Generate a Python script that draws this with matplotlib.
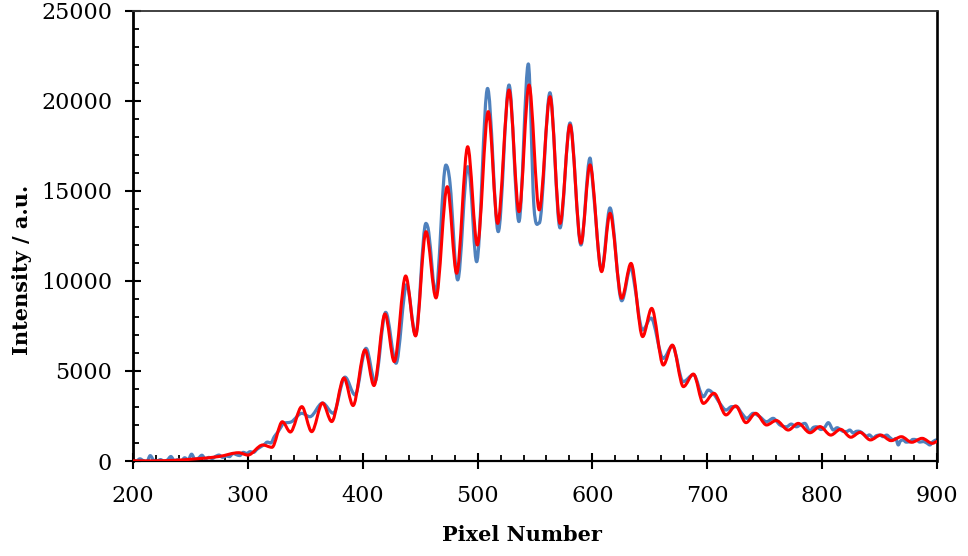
import numpy as np
import matplotlib
matplotlib.use("Agg")
import matplotlib.pyplot as plt
from matplotlib.path import Path
from matplotlib.patches import PathPatch
from matplotlib.ticker import MultipleLocator

# Measured intensity profile (blue)
measured_x = [200, 203, 206, 209, 212, 215, 218, 221, 224, 227, 230, 233, 236, 239,
              242, 245, 248, 251, 254, 257, 260, 263, 266, 269, 272, 275, 278, 281,
              284, 287, 290, 293, 296, 299, 302, 305, 308, 311, 314, 317, 320, 323,
              326, 329,
              331, 338, 347, 354, 365, 374.4, 384.6, 393.3, 402.9, 410.7, 420, 429,
              438.3, 446, 455, 457.5, 463.5, 472.4, 476, 482.7, 491.4, 493.5, 499.2,
              508.7, 518, 527.4, 536, 544.2, 549, 553.7, 563, 571.8, 580.5, 590,
              597.9, 600.5, 608, 615.3, 625.5, 633.5, 636, 643.7, 651, 661.7, 669.6,
              679, 688, 696.6, 700.9, 705.8, 711, 716.3, 721.2, 725.5, 730, 734.4,
              740, 745.7, 751.6, 757.3, 763.3, 769, 773, 777.7, 781, 785, 789.4, 792,
              795, 799, 802, 805.4, 809.8, 813, 815.6, 818, 821.4, 824, 827.2, 830,
              833, 836, 838.8, 841, 844.6, 847, 850.4, 853, 856.2, 859, 862, 864,
              866.3, 868, 870.7, 873, 876.5, 879, 882.3, 885, 888.1, 891, 893.9, 896,
              899.7]
measured_y = [50, 0, 120, 20, -40, 300, 40, 0, 80, -30, 60, 250, 20, 70,
              10, 180, 60, 380, 90, 160, 320, 120, 200, 140, 260, 330, 200, 280,
              240, 420, 350, 300, 480, 420, 520, 480, 650, 780, 900, 1050, 1000, 1350,
              1600, 1900,
              2090, 2180, 2650, 2460, 3220, 2650, 4660, 3670, 6260, 4410, 8260, 5430,
              9800, 7000, 13200, 12700, 9300, 16440, 15440, 10060, 16350, 15700, 11070,
              20700, 12740, 20890, 13300, 22060, 14200, 13220, 20460, 12950, 18780, 12000,
              16830, 15240, 10600, 14060, 8900, 10800, 10060, 7280, 7940, 5700, 6400,
              4410, 4800, 3570, 3940, 3700, 3200, 2830, 3020, 3020, 2650, 2370,
              2650, 2460, 2180, 2370, 2000, 1900, 2050, 1900, 2000, 2090, 1640, 1850,
              1900, 1750, 1850, 2130, 1720, 1850, 1760, 1650, 1640, 1720, 1550, 1650,
              1640, 1500, 1370, 1450, 1280, 1400, 1440, 1350, 1440, 1300, 1170, 1250,
              890, 1100, 1170, 1050, 1080, 1200, 1170, 1050, 1080, 1000, 890, 1050,
              1170]

# Fitted profile (red), turning points of the fringe pattern
fit_x = [200, 230, 255, 275, 292, 300, 313, 321, 330, 337, 347, 355.6, 365, 373,
         383.7, 391.6, 402, 409.8, 419.4, 427.5, 437.4, 446, 455.1, 463.8, 473.6,
         481.8, 491.4, 499.8, 509.3, 517.5, 527.4, 536.1, 544.8, 553.7, 563.1, 571.8,
         580.5, 590, 597.9, 608, 615.3, 625.5, 633.6, 643.7, 651.6, 661.7, 669.6,
         679.2, 687.9, 696.6, 705.8, 716.3, 724.7, 733.7, 742.1, 751.6, 760, 770.5,
         779.2, 789.4, 798.1, 807.5, 816, 825, 833, 842, 851, 860, 869, 878, 887,
         896, 900]
fit_y = [10, 20, 120, 250, 460, 330, 890, 760, 2180, 1610, 3020, 1630, 3220, 2190,
         4610, 3080, 6170, 4190, 8170, 5520, 10280, 6950, 12740, 9060, 15240,
         10430, 17460, 12000, 19410, 13200, 20610, 13850, 20890, 13950, 20240, 13200,
         18670, 12100, 16450, 10520, 13760, 9040, 10980, 6910, 8480, 5330, 6440,
         4130, 4830, 3200, 3760, 2560, 3060, 2130, 2650, 2000, 2250, 1720,
         2090, 1570, 1910, 1440, 1760, 1320, 1590, 1170, 1440, 1130, 1350, 1040, 1260,
         980, 1080]

x_ticks = [200, 300, 400, 500, 600, 700, 800, 900]
y_ticks = [0, 5000, 10000, 15000, 20000, 25000]


def smooth_path(xs, ys):
    """Cubic Bezier path through the points; flat tangents at turning points."""
    xs = np.asarray(xs, float)
    ys = np.asarray(ys, float)
    n = len(xs)
    slopes = np.zeros(n)
    for i in range(1, n - 1):
        d0 = ys[i] - ys[i - 1]
        d1 = ys[i + 1] - ys[i]
        if d0 * d1 > 0:
            slopes[i] = (ys[i + 1] - ys[i - 1]) / (xs[i + 1] - xs[i - 1])
    verts = [(xs[0], ys[0])]
    codes = [Path.MOVETO]
    for i in range(n - 1):
        h = (xs[i + 1] - xs[i]) / 3.0
        verts += [(xs[i] + h, ys[i] + h * slopes[i]),
                  (xs[i + 1] - h, ys[i + 1] - h * slopes[i + 1]),
                  (xs[i + 1], ys[i + 1])]
        codes += [Path.CURVE4] * 3
    return Path(verts, codes)


plt.rcParams['font.family'] = ['DejaVu Serif']

fig = plt.figure(figsize=(9.68, 5.56), dpi=100)
ax = fig.add_axes([133 / 968, 1 - 461 / 556, (937 - 133) / 968, (461 - 11) / 556])

ax.add_patch(PathPatch(smooth_path(measured_x, measured_y), facecolor='none',
                       edgecolor='#4F81BD', lw=2.3, capstyle='round',
                       joinstyle='round', zorder=2))
ax.add_patch(PathPatch(smooth_path(fit_x, fit_y), facecolor='none',
                       edgecolor='#FF0000', lw=2.2, capstyle='round',
                       joinstyle='round', zorder=3))

ax.set_xlim(200, 900)
ax.set_ylim(0, 25000)
ax.set_xticks(x_ticks)
ax.set_yticks(y_ticks)
ax.xaxis.set_minor_locator(MultipleLocator(20))
ax.yaxis.set_minor_locator(MultipleLocator(1000))

ax.tick_params(which='major', direction='inout', length=12, width=1.5,
               labelsize=16, pad=9, color='black')
ax.tick_params(axis='x', which='major', pad=11)
ax.tick_params(which='minor', direction='in', length=4, width=1.3, color='black')

for side, lw in (('left', 2.0), ('bottom', 1.6), ('right', 1.9), ('top', 1.3)):
    ax.spines[side].set_linewidth(lw)
    ax.spines[side].set_color('black' if side != 'top' else '#333333')

fig.text(522 / 968, 1 - 535 / 556, 'Pixel Number', ha='center', va='center',
         fontsize=15, fontweight='bold')
fig.text(22 / 968, 1 - 270 / 556, 'Intensity / a.u.', ha='center', va='center',
         rotation=90, fontsize=15, fontweight='bold')

fig.savefig('out.png', dpi=100)
